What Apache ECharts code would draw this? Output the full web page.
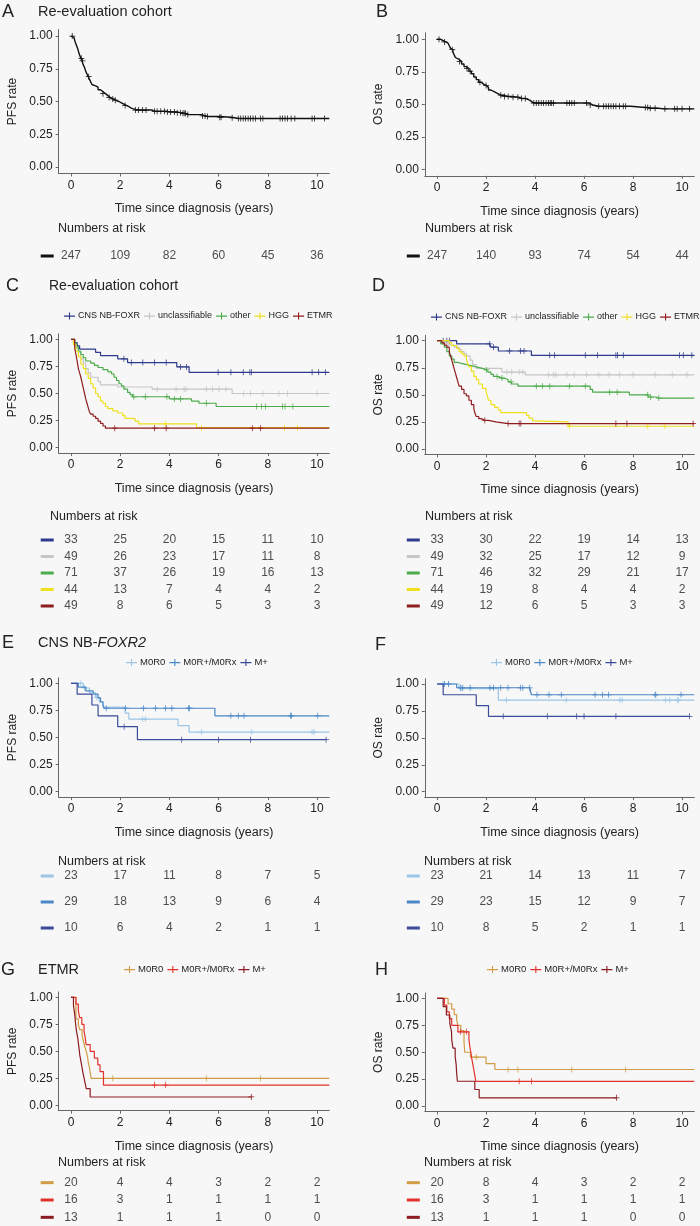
<!DOCTYPE html>
<html><head><meta charset="utf-8">
<script src="https://cdn.jsdelivr.net/npm/echarts@6/dist/echarts.min.js"></script>
<style>html,body{margin:0;padding:0;background:#f7f7f7}#c{width:700px;height:1226px}</style>
</head><body><div id="c"></div>
<script>
// ---------- DATA ----------
const xTicks = [0, 2, 4, 6, 8, 10];
const yTicks = [0, 0.25, 0.5, 0.75, 1];
const riskTimes = [0, 2, 4, 6, 8, 10];
const groupNames = ['CNS NB-FOXR', 'unclassifiable', 'other', 'HGG', 'ETMR'];
const mNames = ['M0R0', 'M0R+/M0Rx', 'M+'];

// Panel A: PFS, whole cohort
const aSteps = [[0,1],[0.08,0.99],[0.12,0.98],[0.16,0.96],[0.2,0.94],[0.24,0.92],[0.28,0.9],[0.32,0.87],[0.36,0.85],[0.4,0.83],[0.45,0.81],[0.5,0.78],[0.55,0.76],[0.6,0.73],[0.65,0.71],[0.7,0.69],[0.75,0.67],[0.8,0.65],[0.85,0.63],[0.9,0.62],[1.0,0.61],[1.1,0.59],[1.2,0.575],[1.3,0.56],[1.4,0.545],[1.5,0.53],[1.6,0.52],[1.75,0.51],[1.85,0.5],[1.95,0.49],[2.05,0.48],[2.15,0.47],[2.25,0.46],[2.35,0.45],[2.45,0.44],[2.6,0.435],[3.3,0.425],[3.9,0.42],[4.3,0.415],[4.5,0.41],[4.72,0.4],[5.3,0.39],[5.5,0.385],[6.02,0.38],[6.52,0.375],[6.7,0.37]];
const aCensor = [0.05,0.42,0.47,0.72,1.3,1.55,1.7,1.8,2.2,2.62,2.75,2.9,3.05,3.4,3.5,3.65,3.8,3.92,4.05,4.2,4.32,4.45,4.55,4.6,4.65,4.75,5.35,5.45,5.55,6.05,6.1,6.55,6.8,6.9,7.0,7.1,7.2,7.3,7.4,7.5,7.7,7.8,8.5,8.6,8.7,8.8,8.95,9.1,9.8,9.9,10.3];
const aRisk = [247, 109, 82, 60, 45, 36];

// Panel B: OS, whole cohort
const bSteps = [[0,1],[0.15,0.99],[0.25,0.98],[0.35,0.97],[0.45,0.96],[0.5,0.95],[0.55,0.93],[0.6,0.92],[0.65,0.9],[0.7,0.88],[0.75,0.86],[0.8,0.845],[0.9,0.83],[1.0,0.81],[1.1,0.79],[1.2,0.775],[1.3,0.755],[1.4,0.735],[1.5,0.71],[1.6,0.69],[1.7,0.67],[1.8,0.655],[1.9,0.645],[2.02,0.63],[2.1,0.61],[2.2,0.595],[2.35,0.58],[2.5,0.57],[2.7,0.56],[3.02,0.555],[3.32,0.545],[3.62,0.53],[3.8,0.515],[3.9,0.51],[6.22,0.495],[6.35,0.485],[7.9,0.475],[8.62,0.47],[9.02,0.465]];
const bCensor = [0.08,0.3,0.62,0.92,1.22,1.35,1.75,2.0,2.6,2.75,2.9,3.1,3.3,3.45,3.6,3.95,4.05,4.15,4.25,4.35,4.45,4.55,4.62,4.68,4.75,5.3,5.4,5.5,5.6,6.1,6.25,6.6,6.8,6.9,7.0,7.1,7.2,7.3,7.45,7.6,7.7,8.5,8.6,8.7,8.9,9.3,9.7,9.8,10.0,10.3];
const bRisk = [247, 140, 93, 74, 54, 44];

// Panel C: PFS by group
const cFoxrSteps = [[0,1],[0.15,0.97],[0.25,0.94],[0.35,0.91],[1.0,0.88],[1.2,0.85],[1.9,0.82],[2.3,0.785],[4.3,0.745],[4.8,0.695]];
const cFoxrCensor = [2.15,2.45,2.92,3.4,3.87,4.45,4.7,5.98,6.5,7.0,7.27,7.33,9.8,10.07,10.34];
const cUnclSteps = [[0,1],[0.1,0.96],[0.2,0.92],[0.3,0.88],[0.4,0.82],[0.5,0.78],[0.6,0.73],[0.7,0.69],[0.8,0.65],[1.1,0.61],[1.2,0.58],[1.9,0.56],[3.3,0.54],[6.55,0.5]];
const cUnclCensor = [3.5,4.27,4.6,4.68,5.5,5.75,6.02,6.3,7.02,7.3,7.8,8.45,8.8,10.0];
const cOtherSteps = [[0,1],[0.1,0.97],[0.2,0.93],[0.3,0.89],[0.4,0.86],[0.5,0.83],[0.6,0.8],[0.8,0.78],[0.95,0.76],[1.1,0.74],[1.3,0.72],[1.5,0.7],[1.65,0.68],[1.75,0.65],[1.85,0.62],[1.95,0.59],[2.05,0.57],[2.15,0.54],[2.3,0.51],[2.4,0.49],[2.5,0.47],[4.0,0.45],[4.9,0.43],[5.2,0.41],[5.9,0.38]];
const cOtherCensor = [2.55,3.02,3.9,4.2,4.45,5.5,7.55,7.75,7.9,8.6,8.7,9.02];
const cHggSteps = [[0,1],[0.1,0.95],[0.2,0.89],[0.3,0.84],[0.4,0.77],[0.5,0.73],[0.6,0.68],[0.7,0.64],[0.8,0.59],[0.9,0.55],[1.0,0.5],[1.1,0.47],[1.2,0.43],[1.3,0.41],[1.4,0.38],[1.5,0.36],[1.7,0.34],[1.9,0.32],[2.1,0.295],[2.2,0.27],[2.6,0.245],[2.75,0.22],[5.1,0.185]];
const cHggCensor = [3.85,5.3,8.68,9.2];
const cEtmrSteps = [[0,1],[0.15,0.92],[0.2,0.86],[0.25,0.8],[0.3,0.73],[0.35,0.69],[0.4,0.65],[0.45,0.6],[0.5,0.55],[0.55,0.5],[0.6,0.45],[0.65,0.41],[0.7,0.37],[0.75,0.33],[0.8,0.31],[0.9,0.29],[1.0,0.27],[1.1,0.245],[1.2,0.225],[1.3,0.2],[1.4,0.18]];
const cEtmrCensor = [1.78,3.4,3.87,7.37,7.7];
const cRiskFoxr = [33, 25, 20, 15, 11, 10];
const cRiskUncl = [49, 26, 23, 17, 11, 8];
const cRiskOther = [71, 37, 26, 19, 16, 13];
const cRiskHgg = [44, 13, 7, 4, 4, 2];
const cRiskEtmr = [49, 8, 6, 5, 3, 3];

// Panel D: OS by group
const dFoxrSteps = [[0,1],[0.8,0.97],[2.2,0.94],[2.5,0.905],[3.85,0.865]];
const dFoxrCensor = [0.25,0.4,0.5,2.15,2.3,2.96,3.4,3.55,4.6,4.8,6.05,6.55,7.3,7.37,7.6,9.9,10.05,10.4];
const dUnclSteps = [[0,1],[0.3,0.98],[0.5,0.96],[0.7,0.94],[0.9,0.92],[1.0,0.9],[1.1,0.88],[1.2,0.86],[1.35,0.82],[1.45,0.78],[1.6,0.745],[2.65,0.71],[3.6,0.685]];
const dUnclCensor = [0.45,2.85,3.05,3.35,3.5,4.55,4.75,4.85,5.3,5.6,6.1,6.6,7.02,7.45,8.0,8.9,9.6,10.2];
const dOtherSteps = [[0,1],[0.15,0.97],[0.3,0.94],[0.4,0.9],[0.5,0.86],[0.6,0.83],[0.7,0.8],[0.85,0.79],[1.0,0.775],[1.3,0.76],[1.55,0.745],[1.85,0.73],[2.1,0.71],[2.2,0.69],[2.3,0.67],[2.5,0.655],[2.75,0.64],[2.9,0.62],[3.05,0.6],[3.3,0.58],[6.25,0.55],[6.35,0.525],[7.85,0.5],[8.65,0.48],[8.95,0.47]];
const dOtherCensor = [2.02,2.45,2.65,3.02,4.05,4.3,4.6,5.4,6.05,7.05,7.35,8.6,8.72,9.05];
const dHggSteps = [[0,1],[0.5,0.98],[0.6,0.955],[0.8,0.93],[0.9,0.9],[1.0,0.88],[1.1,0.86],[1.2,0.83],[1.25,0.79],[1.3,0.76],[1.4,0.72],[1.5,0.67],[1.6,0.64],[1.7,0.6],[1.85,0.56],[2.0,0.53],[2.05,0.49],[2.1,0.45],[2.2,0.41],[2.35,0.385],[2.5,0.36],[2.6,0.335],[3.65,0.31],[3.75,0.285],[3.9,0.26],[4.0,0.25],[5.35,0.21]];
const dHggCensor = [5.4,8.6,9.3];
const dEtmrSteps = [[0,1],[0.2,0.98],[0.3,0.96],[0.4,0.94],[0.5,0.9],[0.55,0.86],[0.6,0.82],[0.65,0.78],[0.7,0.74],[0.75,0.7],[0.8,0.66],[0.85,0.62],[0.9,0.58],[1.0,0.55],[1.1,0.51],[1.2,0.49],[1.3,0.45],[1.4,0.41],[1.5,0.37],[1.55,0.33],[1.6,0.3],[1.7,0.28],[1.8,0.265],[2.1,0.25],[2.4,0.235]];
const dEtmrCensor = [1.95,2.9,3.35,3.42,7.3,7.75,10.45];
const dRiskFoxr = [33, 30, 22, 19, 14, 13];
const dRiskUncl = [49, 32, 25, 17, 12, 9];
const dRiskOther = [71, 46, 32, 29, 21, 17];
const dRiskHgg = [44, 19, 8, 4, 4, 2];
const dRiskEtmr = [49, 12, 6, 5, 3, 3];

// Panel E: PFS CNS NB-FOXR2 by M stage
const eM0Steps = [[0,1],[0.5,0.957],[0.75,0.913],[1.0,0.87],[1.15,0.826],[1.3,0.78],[2.2,0.725],[2.35,0.67],[4.35,0.61],[4.8,0.55]];
const eM0Censor = [0.4,0.55,1.05,2.9,3.02,5.3,7.35,9.8,9.88];
const eMrSteps = [[0,1],[0.3,0.965],[0.6,0.93],[0.9,0.9],[1.1,0.865],[1.2,0.83],[1.3,0.8],[1.35,0.77],[5.85,0.7]];
const eMrCensor = [1.43,2.22,2.95,3.43,3.84,4.1,4.78,4.82,6.5,6.8,7.03,8.92,8.96,10.03];
const eMpSteps = [[0,1],[0.25,0.9],[0.85,0.8],[1.1,0.7],[1.9,0.6],[2.7,0.48]];
const eMpCensor = [2.16,4.5,6.0,7.3,10.37];
const eRiskM0 = [23, 17, 11, 8, 7, 5];
const eRiskMr = [29, 18, 13, 9, 6, 4];
const eRiskMp = [10, 6, 4, 2, 1, 1];

// Panel F: OS CNS NB-FOXR2 by M stage
const fM0Steps = [[0,1],[0.9,0.957],[2.5,0.85]];
const fM0Censor = [0.25,0.47,1.0,2.84,5.27,7.46,7.55,9.32,9.5,9.8,9.85];
const fMrSteps = [[0,1],[0.8,0.965],[3.85,0.9]];
const fMrCensor = [0.3,0.47,0.95,1.05,1.35,2.16,2.3,2.6,2.9,3.4,3.5,3.78,4.08,4.57,5.07,6.45,6.76,7.0,8.9,8.93,9.96];
const fMpSteps = [[0,1],[0.25,0.9],[1.6,0.8],[2.1,0.7]];
const fMpCensor = [2.7,4.5,5.7,6.0,7.3,10.3];
const fRiskM0 = [23, 21, 14, 13, 11, 7];
const fRiskMr = [29, 23, 15, 12, 9, 7];
const fRiskMp = [10, 8, 5, 2, 1, 1];

// Panel G: PFS ETMR by M stage
const gM0Steps = [[0,1],[0.2,0.8],[0.3,0.75],[0.35,0.7],[0.45,0.65],[0.5,0.6],[0.55,0.55],[0.62,0.5],[0.67,0.45],[0.7,0.4],[0.75,0.35],[0.78,0.3],[0.82,0.25]];
const gM0Censor = [1.7,5.5,7.7];
const gMrSteps = [[0,1],[0.2,0.9375],[0.3,0.875],[0.35,0.8125],[0.44,0.75],[0.53,0.6875],[0.58,0.625],[0.61,0.5625],[0.78,0.5],[0.95,0.4375],[1.09,0.375],[1.18,0.3125],[1.32,0.1875]];
const gMrCensor = [3.4,3.85];
const gMpSteps = [[0,1],[0.1,0.923],[0.15,0.846],[0.18,0.769],[0.22,0.692],[0.28,0.615],[0.32,0.538],[0.36,0.462],[0.42,0.385],[0.48,0.308],[0.55,0.231],[0.62,0.154],[0.78,0.077]];
const gMpCensor = [7.33];
const gRiskM0 = [20, 4, 4, 3, 2, 2];
const gRiskMr = [16, 3, 1, 1, 1, 1];
const gRiskMp = [13, 1, 1, 1, 0, 0];

// Panel H: OS ETMR by M stage
const hM0Steps = [[0,1],[0.45,0.95],[0.6,0.9],[0.7,0.85],[0.8,0.8],[0.85,0.75],[0.97,0.7],[1.1,0.6],[1.13,0.5],[1.36,0.455],[2.0,0.395],[2.36,0.34]];
const hM0Censor = [1.6,2.9,3.3,5.5,7.7];
const hMrSteps = [[0,1],[0.3,0.9375],[0.4,0.875],[0.5,0.8125],[0.6,0.75],[0.85,0.69],[1.3,0.625],[1.33,0.5625],[1.38,0.5],[1.42,0.4375],[1.47,0.375],[1.52,0.3125],[1.58,0.23]];
const hMrCensor = [0.95,1.2,3.35,3.85];
const hMpSteps = [[0,1],[0.25,0.923],[0.38,0.846],[0.52,0.769],[0.59,0.692],[0.6,0.615],[0.65,0.538],[0.74,0.462],[0.78,0.385],[0.8,0.308],[0.83,0.231],[1.54,0.154],[1.72,0.077]];
const hMpCensor = [7.33];
const hRiskM0 = [20, 8, 4, 3, 2, 2];
const hRiskMr = [16, 3, 1, 1, 1, 1];
const hRiskMp = [13, 1, 1, 1, 0, 0];

// ---------- STYLE / LAYOUT ----------
const grpColors = ['#2e3a8c', '#c6c6c6', '#4cab4a', '#efe01e', '#8e1d1f'];
const foxColors = ['#9cc5e6', '#4a87c6', '#3b4b9b'];
const etmColors = ['#d19c45', '#e3322b', '#8b1c22'];
const LX = 58.7, LW = 270.6, RX = 424.8, RW = 269.5;
const PLUS = 'path://M3.5,0h1v8h-1zM0,3.5h8v1h-8z';
const LEG_ICON = 'path://M0,4h12v1.2h-12zM5.4,0.6h1.2v7.8h-1.2z';

function mk(names, stepsArr, censArr, ends, risks, colors) {
  return names.map((n, i) => ({name: n, steps: stepsArr[i], censor: censArr[i], end: ends[i], risk: risks[i], color: colors[i]}));
}
const panels = [
  {id:'A', yName:'PFS rate', g:{left:LX, top:29.5, width:LW, height:144}, rg:{top:248, height:16}, lw:1.4,
   curves: mk(['all'], [aSteps], [aCensor], [10.5], [aRisk], ['#111'])},
  {id:'B', yName:'OS rate', g:{left:RX, top:32.8, width:RW, height:143}, rg:{top:248, height:16}, lw:1.4,
   curves: mk(['all'], [bSteps], [bCensor], [10.5], [bRisk], ['#111'])},
  {id:'C', yName:'PFS rate', g:{left:LX, top:333.9, width:LW, height:119.2}, rg:{top:531.75, height:82.5}, lw:1.2,
   legend:{left:64, top:311.5, fs:9},
   curves: mk(groupNames, [cFoxrSteps,cUnclSteps,cOtherSteps,cHggSteps,cEtmrSteps], [cFoxrCensor,cUnclCensor,cOtherCensor,cHggCensor,cEtmrCensor], [10.5,10.5,10.5,10.5,10.5], [cRiskFoxr,cRiskUncl,cRiskOther,cRiskHgg,cRiskEtmr], grpColors)},
  {id:'D', yName:'OS rate', g:{left:RX, top:335.3, width:RW, height:119.1}, rg:{top:531.75, height:82.5}, lw:1.2,
   legend:{left:431, top:312.5, fs:9},
   curves: mk(groupNames, [dFoxrSteps,dUnclSteps,dOtherSteps,dHggSteps,dEtmrSteps], [dFoxrCensor,dUnclCensor,dOtherCensor,dHggCensor,dEtmrCensor], [10.5,10.5,10.5,10.5,10.5], [dRiskFoxr,dRiskUncl,dRiskOther,dRiskHgg,dRiskEtmr], grpColors)},
  {id:'E', yName:'PFS rate', g:{left:LX, top:677.9, width:LW, height:119.2}, rg:{top:863, height:78}, lw:1.2,
   legend:{left:126, top:657.5, fs:9.5},
   curves: mk(mNames, [eM0Steps,eMrSteps,eMpSteps], [eM0Censor,eMrCensor,eMpCensor], [10.5,10.5,10.37], [eRiskM0,eRiskMr,eRiskMp], foxColors)},
  {id:'F', yName:'OS rate', g:{left:RX, top:678.6, width:RW, height:118.5}, rg:{top:863, height:78}, lw:1.2,
   legend:{left:491, top:657.5, fs:9.5},
   curves: mk(mNames, [fM0Steps,fMrSteps,fMpSteps], [fM0Censor,fMrCensor,fMpCensor], [10.5,10.5,10.3], [fRiskM0,fRiskMr,fRiskMp], foxColors)},
  {id:'G', yName:'PFS rate', g:{left:LX, top:991.9, width:LW, height:118.8}, rg:{top:1174, height:55.5}, lw:1.2,
   legend:{left:124, top:964.5, fs:9.5},
   curves: mk(mNames, [gM0Steps,gMrSteps,gMpSteps], [gM0Censor,gMrCensor,gMpCensor], [10.5,10.5,7.33], [gRiskM0,gRiskMr,gRiskMp], etmColors)},
  {id:'H', yName:'OS rate', g:{left:RX, top:993, width:RW, height:118.5}, rg:{top:1174, height:55.5}, lw:1.2,
   legend:{left:487, top:964.5, fs:9.5},
   curves: mk(mNames, [hM0Steps,hMrSteps,hMpSteps], [hM0Censor,hMrCensor,hMpCensor], [10.5,10.5,7.33], [hRiskM0,hRiskMr,hRiskMp], etmColors)}
];

function stepAt(steps, t) {
  let v = steps[0][1];
  for (const p of steps) { if (p[0] <= t) v = p[1]; }
  return v;
}

const TXT = '#222', AX = '#666';
const option = {
  backgroundColor: '#f7f7f7', animation: false,
  textStyle: {fontFamily: 'Liberation Sans, Arial, sans-serif'},
  grid: [], xAxis: [], yAxis: [], series: [], legend: [], graphic: []
};

panels.forEach((p, k) => {
  const gi = 2 * k, ri = 2 * k + 1;
  option.grid.push(Object.assign({containLabel: false}, p.g));
  option.grid.push({left: p.g.left, width: p.g.width, top: p.rg.top, height: p.rg.height});
  option.xAxis.push({
    gridIndex: gi, type: 'value', min: -0.5, max: 10.5,
    name: 'Time since diagnosis (years)', nameLocation: 'middle', nameGap: 29,
    nameTextStyle: {fontSize: 12.5, color: TXT},
    axisLine: {show: true, onZero: false, lineStyle: {color: AX}},
    axisTick: {show: true, customValues: xTicks, length: 3, lineStyle: {color: AX}},
    axisLabel: {customValues: xTicks, fontSize: 12, color: TXT, margin: 6},
    splitLine: {show: false}
  });
  option.yAxis.push({
    gridIndex: gi, type: 'value', min: -0.05, max: 1.05,
    name: p.yName, nameLocation: 'middle', nameGap: 40, nameRotate: 90,
    nameTextStyle: {fontSize: 12, color: TXT},
    axisLine: {show: true, onZero: false, lineStyle: {color: AX}},
    axisTick: {show: true, customValues: yTicks, length: 3, lineStyle: {color: AX}},
    axisLabel: {customValues: yTicks, fontSize: 12, color: TXT, margin: 6, formatter: v => Number(v).toFixed(2)},
    splitLine: {show: false}
  });
  option.xAxis.push({gridIndex: ri, type: 'value', min: -0.5, max: 10.5, show: false});
  const rich = {};
  p.curves.forEach((c, i) => { rich['s' + i] = {backgroundColor: c.color, width: 13, height: 3, fontSize: 2, lineHeight: 3}; });
  option.yAxis.push({
    gridIndex: ri, type: 'category', inverse: true, data: p.curves.map((c, i) => String(i)),
    axisLine: {show: false}, axisTick: {show: false}, splitLine: {show: false},
    axisLabel: {margin: 5, formatter: v => '{s' + v + '| }', rich: rich}
  });

  p.curves.forEach((c, i) => {
    const pts = c.steps.map(s => ({value: [s[0], s[1]], symbol: 'none', o: 0}));
    c.censor.forEach(t => pts.push({value: [t, stepAt(c.steps, t)], symbol: PLUS, symbolSize: 6, o: 1}));
    pts.push({value: [c.end, stepAt(c.steps, c.end)], symbol: 'none', o: 2});
    pts.sort((a, b) => (a.value[0] - b.value[0]) || (a.o - b.o));
    option.series.push({
      type: 'line', name: p.id + '|' + c.name, xAxisIndex: gi, yAxisIndex: gi,
      step: 'end', data: pts.map(d => ({value: d.value, symbol: d.symbol, symbolSize: d.symbolSize || 0})),
      showSymbol: true, symbolKeepAspect: true,
      lineStyle: {color: c.color, width: p.lw}, itemStyle: {color: c.color},
      silent: true, z: 2 + i
    });
  });

  const rdata = [];
  p.curves.forEach((c, r) => c.risk.forEach((n, j) => rdata.push([riskTimes[j], r, n])));
  option.series.push({
    type: 'scatter', name: p.id + '|risk', xAxisIndex: ri, yAxisIndex: ri,
    data: rdata, symbolSize: 1, itemStyle: {color: 'rgba(0,0,0,0)'}, silent: true,
    label: {show: true, position: 'inside', formatter: q => String(q.value[2]), fontSize: 12, color: TXT}
  });

  if (p.legend) {
    option.legend.push({
      left: p.legend.left, top: p.legend.top, width: 320, orient: 'horizontal', padding: 0,
      itemWidth: 11, itemHeight: 9, itemGap: 4, icon: LEG_ICON,
      textStyle: {fontSize: p.legend.fs, color: '#222', padding: [0, 0, 0, -2]},
      data: p.curves.map(c => p.id + '|' + c.name),
      formatter: n => n.split('|')[1], selectedMode: false
    });
  }
});

function txt(x, y, text, size, extra) {
  return Object.assign({type: 'text', x: x, y: y, silent: true,
    style: {text: text, fill: TXT, font: size + 'px "Liberation Sans", Arial, sans-serif',
            textAlign: 'left', textVerticalAlign: 'middle', align: 'left', verticalAlign: 'middle'}}, extra || {});
}
const letters = [['A',2,12],['B',376,12],['C',6,286],['D',372,286],['E',2,643],['F',375,645],['G',1,970],['H',375,970]];
letters.forEach(l => option.graphic.push(txt(l[1], l[2], l[0], 18)));
option.graphic.push(txt(38, 12, 'Re-evaluation cohort', 14.5));
option.graphic.push(txt(49, 286, 'Re-evaluation cohort', 14));
option.graphic.push({type: 'text', x: 38, y: 643, silent: true,
  style: {text: '{n|CNS NB-}{i|FOXR2}', textVerticalAlign: 'middle', verticalAlign: 'middle',
    rich: {n: {fontSize: 14.5, fill: TXT, color: TXT, fontFamily: 'Liberation Sans'},
           i: {fontSize: 14.5, fill: TXT, color: TXT, fontStyle: 'italic', fontFamily: 'Liberation Sans'}}}});
option.graphic.push(txt(38, 970, 'ETMR', 14.5));
const nar = [[58,229],[425,229],[50,517],[425,517],[58,862],[424,862],[58,1163],[424,1163]];
nar.forEach(n => option.graphic.push(txt(n[0], n[1], 'Numbers at risk', 12.5)));

const chart = echarts.init(document.getElementById('c'));
chart.setOption(option);
</script></body></html>
